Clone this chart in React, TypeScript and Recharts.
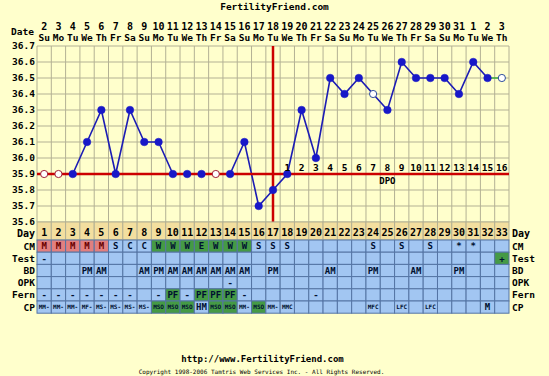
import { ComposedChart, Line, XAxis, YAxis, CartesianGrid, ReferenceLine, ReferenceDot } from 'recharts';

const days = [1, 2, 3, 4, 5, 6, 7, 8, 9, 10, 11, 12, 13, 14, 15, 16, 17, 18, 19, 20, 21, 22, 23, 24, 25, 26, 27, 28, 29, 30, 31, 32, 33];
const dates = ['2', '3', '4', '5', '6', '7', '8', '9', '10', '11', '12', '13', '14', '15', '16', '17', '18', '19', '20', '21', '22', '23', '24', '25', '26', '27', '28', '29', '30', '31', '1', '2', '3'];
const weekdays = ['Su', 'Mo', 'Tu', 'We', 'Th', 'Fr', 'Sa', 'Su', 'Mo', 'Tu', 'We', 'Th', 'Fr', 'Sa', 'Su', 'Mo', 'Tu', 'We', 'Th', 'Fr', 'Sa', 'Su', 'Mo', 'Tu', 'We', 'Th', 'Fr', 'Sa', 'Su', 'Mo', 'Tu', 'We', 'Th'];
const temps = [35.9, 35.9, 35.9, 36.1, 36.3, 35.9, 36.3, 36.1, 36.1, 35.9, 35.9, 35.9, 35.9, 35.9, 36.1, 35.7, 35.8, 35.9, 36.3, 36.0, 36.5, 36.4, 36.5, 36.4, 36.3, 36.6, 36.5, 36.5, 36.5, 36.4, 36.6, 36.5, 36.5];
const discardedDays = [1, 2, 13, 24, 33];
const tailDays = [32, 33];
const tempTicks = [35.6, 35.7, 35.8, 35.9, 36.0, 36.1, 36.2, 36.3, 36.4, 36.5, 36.6, 36.7];
const coverline = 35.9;
const ovulationDay = 17;
const dpoDays = [18, 19, 20, 21, 22, 23, 24, 25, 26, 27, 28, 29, 30, 31, 32, 33];
const dpoLabels = ['1', '2', '3', '4', '5', '6', '7', '8', '9', '10', '11', '12', '13', '14', '15', '16'];

const cm = ['M', 'M', 'M', 'M', 'M', 'S', 'C', 'C', 'W', 'W', 'W', 'E', 'W', 'W', 'W', 'S', 'S', 'S', '', '', '', '', '', 'S', '', 'S', '', 'S', '', '*', '*', '', ''];
const test = ['-', '', '', '', '', '', '', '', '', '', '', '', '', '', '', '', '', '', '', '', '', '', '', '', '', '', '', '', '', '', '', '', '+'];
const bd = ['', '', '', 'PM', 'AM', '', '', 'AM', 'PM', 'AM', 'AM', 'AM', 'AM', 'AM', 'AM', '', 'PM', '', '', '', 'AM', '', '', 'PM', '', '', 'AM', '', '', 'PM', '', '', ''];
const opk = ['', '', '', '', '', '', '', '', '', '', '', '', '', '-', '', '', '', '', '', '', '', '', '', '', '', '', '', '', '', '', '', '', ''];
const fern = ['-', '-', '-', '-', '-', '-', '-', '', '-', 'PF', '-', 'PF', 'PF', 'PF', '-', '', '', '', '', '-', '', '', '', '', '', '', '', '', '', '', '', '', ''];
const cp = ['MM-', 'MM-', 'MM-', 'MF-', 'MS-', 'MS-', 'MS-', 'MS-', 'MSO', 'MSO', 'MSO', 'HM', 'MSO', 'MSO', 'MM-', 'MSO', 'MM-', 'MMC', '', '', '', '', '', 'MFC', '', 'LFC', '', 'LFC', '', '', '', 'M', ''];

const rows = [
  { label: 'CM', values: cm },
  { label: 'Test', values: test },
  { label: 'BD', values: bd },
  { label: 'OPK', values: opk },
  { label: 'Fern', values: fern },
  { label: 'CP', values: cp },
];

const chartData = days.map((day, i) => ({
  day,
  temp: discardedDays.includes(day) ? null : temps[i],
  open: discardedDays.includes(day) ? temps[i] : null,
  tail: tailDays.includes(day) ? temps[i] : null,
}));

const FONT = '"DejaVu Sans Mono", monospace';
const BG = '#ffffcc';
const GRID = '#b3b194';
const DAY_BG = '#f3df9f';
const CELL = '#a2c6f2';
const CELL_LINE = '#5474a4';
const GREEN = '#459a45';
const PINK = '#e27f7f';
const RED = '#cc0000';
const BLUE = '#1c1cb4';

const PLOT_W = 472;
const COL = PLOT_W / 33;
const DAY_H = 18;
const ROW_H = 12.2;

function cellFill(label: string, v: string) {
  if (label === 'CM' && v === 'M') return PINK;
  if (label === 'CM' && (v === 'W' || v === 'E')) return GREEN;
  if (label === 'Fern' && v === 'PF') return GREEN;
  if (label === 'CP' && v === 'MSO') return GREEN;
  if (label === 'Test' && v === '+') return GREEN;
  return CELL;
}

function TopTick(props: any) {
  const { x, y, payload } = props;
  const i = days.indexOf(payload.value);
  return (
    <g fontFamily={FONT} fontWeight="bold" fill="#000">
      <text x={x} y={y - 16.5} textAnchor="middle" fontSize={10}>{dates[i]}</text>
      <text x={x} y={y - 5.5} textAnchor="middle" fontSize={9.5}>{weekdays[i]}</text>
      {i === 0 && (
        <text x={x - COL / 2 - 3} y={y - 11} textAnchor="end" fontSize={9.5}>Date</text>
      )}
    </g>
  );
}

function TableTick(props: any) {
  const { x, y, payload } = props;
  const i = days.indexOf(payload.value);
  const left = x - COL / 2;
  const last = i === days.length - 1;
  return (
    <g fontFamily={FONT} fontWeight="bold">
      <rect x={left} y={y} width={COL} height={DAY_H} fill={DAY_BG} stroke={GRID} />
      <text x={x} y={y + 14} textAnchor="middle" fontSize={10} fill="#000">{days[i]}</text>
      {i === 0 && <text x={left - 2} y={y + 14.5} textAnchor="end" fontSize={10} fill="#000">Day</text>}
      {last && <text x={left + COL + 3} y={y + 14.5} fontSize={10} fill="#000">Day</text>}
      {rows.map((row, r) => {
        const top = y + DAY_H + r * ROW_H;
        const v = row.values[i];
        const small = row.label === 'CP' && v !== 'HM' && v !== 'M';
        return (
          <g key={row.label}>
            <rect x={left} y={top} width={COL} height={ROW_H} fill={cellFill(row.label, v)} stroke={CELL_LINE} />
            {v && (
              <text
                x={x}
                y={top + ROW_H / 2}
                dy="0.36em"
                textAnchor="middle"
                fontSize={small ? 6 : 9}
                fill={row.label === 'CM' && v === 'M' ? '#6a0000' : '#001030'}
              >
                {v}
              </text>
            )}
            {i === 0 && (
              <text x={left - 2} y={top + ROW_H / 2} dy="0.36em" textAnchor="end" fontSize={9.5} fill="#000">
                {row.label}
              </text>
            )}
            {last && (
              <text x={left + COL + 3} y={top + ROW_H / 2} dy="0.36em" fontSize={9.5} fill="#000">
                {row.label}
              </text>
            )}
          </g>
        );
      })}
    </g>
  );
}

function OpenDot(props: any) {
  const { cx, cy, payload, index } = props;
  if (payload.open == null || cx == null || cy == null) return <g key={`o${index}`} />;
  return (
    <circle
      key={`o${index}`}
      cx={cx}
      cy={cy}
      r={3.6}
      fill="#ffffff"
      stroke={payload.open === coverline ? '#a0203a' : '#2c4c9c'}
      strokeWidth={1}
    />
  );
}

const boundaries = [...days.map((d) => d - 0.5), days[days.length - 1] + 0.5];
const tickStyle = { fill: '#000', fontSize: 9.5, fontWeight: 'bold', fontFamily: FONT };

export default function App() {
  return (
    <div style={{ position: 'relative', width: 549, height: 376, background: BG, overflow: 'hidden' }}>
      <style>{'body{margin:0;background:#ffffcc}'}</style>
      <ComposedChart width={549} height={376} data={chartData} margin={{ top: 0, right: 0, bottom: 0, left: 0 }}>
        <XAxis
          xAxisId="top"
          orientation="top"
          dataKey="day"
          type="number"
          domain={[0.5, 33.5]}
          ticks={days}
          interval={0}
          height={46}
          axisLine={false}
          tickLine={false}
          tickSize={0}
          tickMargin={0}
          tick={<TopTick />}
        />
        <XAxis
          dataKey="day"
          type="number"
          domain={[0.5, 33.5]}
          ticks={days}
          interval={0}
          height={154}
          axisLine={false}
          tickLine={false}
          tickSize={0}
          tickMargin={0}
          tick={<TableTick />}
        />
        <YAxis
          type="number"
          domain={[35.6, 36.7]}
          ticks={tempTicks}
          interval={0}
          width={37}
          axisLine={false}
          tickLine={false}
          tickSize={0}
          tickMargin={2}
          tickFormatter={(v: number) => v.toFixed(1)}
          tick={tickStyle}
        />
        <YAxis
          yAxisId="right"
          orientation="right"
          type="number"
          domain={[35.6, 36.7]}
          ticks={tempTicks}
          interval={0}
          width={40}
          axisLine={false}
          tickLine={false}
          tickSize={0}
          tickMargin={4}
          tickFormatter={(v: number) => v.toFixed(1)}
          tick={tickStyle}
        />
        <CartesianGrid vertical={false} stroke={GRID} fill={BG} />
        {boundaries.map((b) => (
          <ReferenceLine key={b} x={b} stroke={GRID} strokeWidth={1} />
        ))}
        <Line
          dataKey="tail"
          stroke="#3aaa3a"
          strokeWidth={1.5}
          dot={false}
          activeDot={false}
          isAnimationActive={false}
        />
        <Line
          dataKey="temp"
          stroke={BLUE}
          strokeWidth={1.6}
          connectNulls
          dot={{ r: 3.8, fill: '#1818c8', stroke: '#1818c8', strokeWidth: 0.5 }}
          activeDot={false}
          isAnimationActive={false}
        />
        <ReferenceLine y={coverline} stroke={RED} strokeWidth={2.5} />
        <ReferenceLine x={ovulationDay} stroke={RED} strokeWidth={2.5} />
        <Line
          dataKey="open"
          stroke="none"
          dot={<OpenDot />}
          activeDot={false}
          isAnimationActive={false}
        />
        {dpoDays.map((d, i) => (
          <ReferenceDot
            key={`dpo${d}`}
            x={d}
            y={coverline}
            r={0}
            fill="none"
            stroke="none"
            label={{ value: dpoLabels[i], position: 'top', offset: 3, fill: '#000', fontSize: 9.5, fontWeight: 'bold', fontFamily: FONT }}
          />
        ))}
        <ReferenceDot
          x={25}
          y={coverline}
          r={0}
          fill="none"
          stroke="none"
          label={{ value: 'DPO', position: 'bottom', offset: 4, fill: '#000', fontSize: 9, fontWeight: 'bold', fontFamily: FONT }}
        />
      </ComposedChart>
      <div style={{ position: 'absolute', top: 1, left: 0, width: 549, textAlign: 'center', font: `bold 9.5px ${FONT}`, color: '#000' }}>
        FertilityFriend.com
      </div>
      <div style={{ position: 'absolute', top: 354, left: 0, width: 525, textAlign: 'center', font: `bold 9px ${FONT}`, color: '#000' }}>
        http://www.FertilityFriend.com
      </div>
      <div style={{ position: 'absolute', top: 368, left: 0, width: 523, textAlign: 'center', font: `6px ${FONT}`, color: '#000' }}>
        Copyright 1998-2006 Tamtris Web Services Inc. - All Rights Reserved.
      </div>
    </div>
  );
}
